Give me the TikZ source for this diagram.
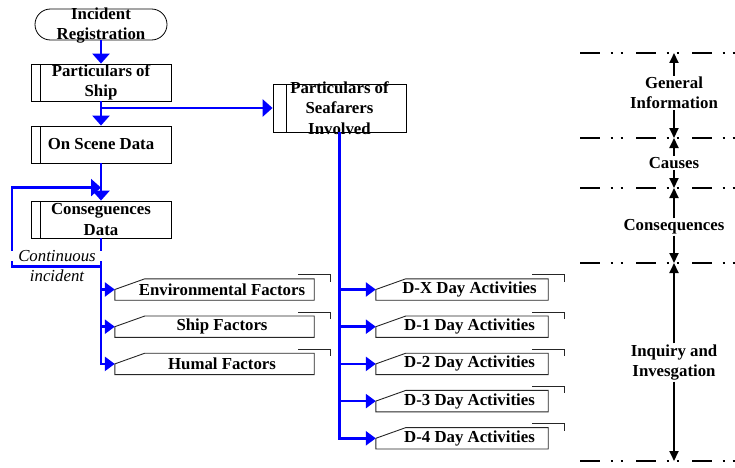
\documentclass[tikz,border=0pt]{standalone}
\usepackage{fontspec}
\setmainfont{Liberation Serif}
\usetikzlibrary{arrows.meta}

\tikzset{
    term/.style={draw, line width=0.8pt, rounded corners=15.5pt, minimum width=132pt, minimum height=31pt, inner sep=0pt},
    proc/.style={draw, line width=0.8pt, minimum width=140pt, minimum height=37pt, inner sep=0pt,
        path picture={\draw[line width=0.8pt] ([xshift=#1]path picture bounding box.south west) -- ([xshift=#1]path picture bounding box.north west);}},
    proc/.default=9pt,
    txt/.style={align=center, inner sep=0pt},
    note/.style={font=\fontsize{16.8}{20.5}\selectfont\mdseries\itshape, inner sep=0pt},
    card/.style={minimum width=#1, minimum height=21pt, inner sep=0pt},
    cardedge/.style={draw=black!85, line width=0.9pt},
    flow/.style={draw=blue, line width=2.6pt, -{Triangle[width=17pt,length=10pt]}},
    branch/.style={flow, -{Triangle[width=14pt,length=10pt]}},
    sepline/.style={line width=2.7pt, dash pattern=on 20pt off 10.5pt on 2pt off 8pt on 2pt off 13.5pt},
    span/.style={line width=1.8pt, -{Triangle[width=9pt,length=10pt]}}
}

\begin{document}
\begin{tikzpicture}[x=1pt, y=1pt, font=\fontsize{16.8}{20.5}\selectfont\bfseries]
    \useasboundingbox (0,0) rectangle (735,467);

    % Main column
    \node[term] (inc) at (101,442.5) {};
    \node[txt] (inc-t) at (101,441.5) {Incident\\Registration};
    \node[proc] (ship) at (101,384.5) {};
    \node[txt] (ship-t) at (ship) {Particulars of\\Ship};
    \node[proc] (scene) at (101,322.5) {On Scene Data};
    \node[proc] (cons) at (101,247.5) {};
    \node[txt] (cons-t) at (cons) {Conseguences\\Data};

    % Seafarers
    \node[proc=13pt, minimum width=133pt, minimum height=48pt] (sea) at (339.5,359) {};
    \node[txt] (sea-t) at (sea) {Particulars of\\Seafarers\\Involved};

    % Factors
    \node[card=184pt] (env) at (222,177.5) {Environmental Factors};
    \node[card=184pt] (shp) at (222,140.3) {Ship Factors};
    \node[card=184pt] (hum) at (222,103.1) {Humal Factors};

    % Day activities
    \node[card=157pt] (dx) at (469.5,177.5) {D-X Day Activities};
    \node[card=157pt] (d1) at (469.5,140.3) {D-1 Day Activities};
    \node[card=157pt] (d2) at (469.5,103.1) {D-2 Day Activities};
    \node[card=157pt] (d3) at (469.5,65.9) {D-3 Day Activities};
    \node[card=157pt] (d4) at (469.5,28.7) {D-4 Day Activities};

    \foreach \c in {env,shp,hum,dx,d1,d2,d3,d4} {
        \draw[cardedge] ([xshift=-15pt]\c.south west) -- ([xshift=-15pt]\c.west) -- ([xshift=15pt]\c.north west) -- (\c.north east) -- (\c.south east) -- cycle;
        \draw[cardedge] ([xshift=-16pt,yshift=4pt]\c.north east) -- ++(32,0) -- ++(0,-7);
    }

    % Flow
    \draw[flow] (inc) -- (ship);
    \draw[flow] (ship) -- (scene);
    \draw[flow] (scene) -- (cons);
    \draw[flow] (ship.south |- sea.west) -- (sea.west);
    \coordinate (loop) at ([yshift=-28pt]cons.south);
    \draw[flow] (loop) -- ++(-89,0) |- ([yshift=13pt]cons.north);
    \draw[branch] (cons.south |- env.west) -- ([xshift=-15pt]env.west);
    \draw[branch] (cons.south |- shp.west) -- ([xshift=-15pt]shp.west);
    \draw[branch] (cons.south) |- ([xshift=-15pt]hum.west);
    \draw[branch] (sea.south |- dx.west) -- ([xshift=-15pt]dx.west);
    \draw[branch] (sea.south |- d1.west) -- ([xshift=-15pt]d1.west);
    \draw[branch] (sea.south |- d2.west) -- ([xshift=-15pt]d2.west);
    \draw[branch] (sea.south |- d3.west) -- ([xshift=-15pt]d3.west);
    \draw[branch] (sea.south) |- ([xshift=-15pt]d4.west);

    \node[note, fill=white, minimum width=98pt, text height=10pt, text depth=0pt] (cont) at (57,211) {Continuous};
    \node[note] (cont2) at (57,191) {incident};

    % Stages
    \coordinate (l1) at (580,414);
    \coordinate (l2) at (580,329);
    \coordinate (l3) at (580,279);
    \coordinate (l4) at (580,204);
    \coordinate (l5) at (580,6);
    \foreach \l in {l1,l2,l3,l4,l5}
        \draw[sepline] (\l) -- ++(160,0);

    \node[txt, inner sep=1pt] (gen) at (674,374) {General\\Information};
    \node[txt, inner sep=1pt] (cau) at (674,304) {Causes};
    \node[txt, inner sep=1pt] (csq) at (674,240) {Consequences};
    \node[txt, inner sep=1pt] (inq) at (674,104.5) {Inquiry and\\Invesgation};

    \draw[span] (gen.north) -- (gen.north |- l1);
    \draw[span] (gen.south) -- (gen.south |- l2);
    \draw[span] (cau.north) -- (cau.north |- l2);
    \draw[span] (cau.south) -- (cau.south |- l3);
    \draw[span] (csq.north) -- (csq.north |- l3);
    \draw[span] (csq.south) -- (csq.south |- l4);
    \draw[span] (inq.north) -- (inq.north |- l4);
    \draw[span] (inq.south) -- (inq.south |- l5);
\end{tikzpicture}
\end{document}
